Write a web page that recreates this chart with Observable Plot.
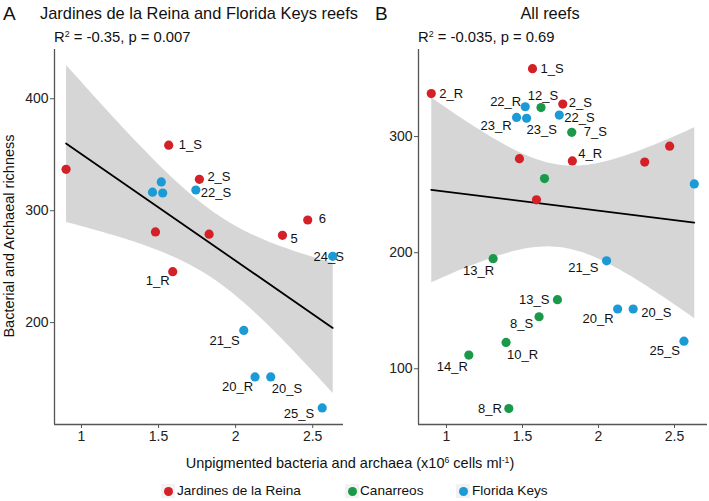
<!DOCTYPE html>
<html><head><meta charset="utf-8">
<script src="https://cdn.jsdelivr.net/npm/d3@7"></script>
<script src="https://cdn.jsdelivr.net/npm/@observablehq/plot@0.6"></script>
<style>
body{margin:0;background:#fff;font-family:"Liberation Sans",Arial,sans-serif;}
#wrap{position:relative;width:709px;height:501px;overflow:hidden;background:#fff}
.abs{position:absolute;white-space:nowrap;color:#111;line-height:1}
.abs sup{font-size:0.6em;vertical-align:0.55em;line-height:0}
.key{position:absolute;width:14px;height:14px;background:#f2f2f2}
.dot{position:absolute;width:9px;height:9px;border-radius:50%}
</style></head><body><div id="wrap"></div>
<script>
// ---- data ----
const regions = ["Jardines de la Reina", "Canarreos", "Florida Keys"];
const regionColors = ["#d42027", "#1a9a48", "#1b9ad6"];
const sampleRegion = [
  "Jardines de la Reina","Jardines de la Reina","Jardines de la Reina","Jardines de la Reina",
  "Jardines de la Reina","Jardines de la Reina","Jardines de la Reina","Jardines de la Reina",
  "Florida Keys","Florida Keys","Florida Keys","Florida Keys","Florida Keys",
  "Florida Keys","Florida Keys","Florida Keys","Florida Keys",
  "Canarreos","Canarreos","Canarreos","Canarreos","Canarreos",
  "Canarreos","Canarreos","Canarreos","Canarreos"
];
const unpigmented = [
  1.566, 0.900, 1.765, 2.468, 1.480, 1.828, 2.304, 1.592,
  1.742, 1.518, 1.461, 1.527, 2.630, 2.053, 2.126, 2.228, 2.562,
  1.622, 1.824, 1.645, 1.307, 1.730, 1.609, 1.392, 1.147, 1.410
];
const richness = [
  358.5, 337.0, 328.0, 291.7, 281.0, 279.0, 278.0, 245.5,
  318.5, 325.7, 316.5, 315.8, 259.2, 193.0, 151.5, 151.5, 123.8,
  325.0, 303.7, 263.8, 194.8, 159.5, 144.8, 122.7, 111.8, 65.8
];
const labelsA = [
  "1_S", "", "2_S", "6", "", "", "5", "1_R",
  "22_S", "", "", "", "24_S", "21_S", "20_R", "20_S", "25_S",
  "", "", "", "", "", "", "", "", ""
];
const labelsB = [
  "1_S", "2_R", "2_S", "", "", "4_R", "", "",
  "22_S", "22_R", "23_R", "23_S", "", "21_S", "20_R", "20_S", "25_S",
  "12_S", "7_S", "", "13_R", "13_S", "8_S", "10_R", "14_R", "8_R"
];
const xTicks = [1, 1.5, 2, 2.5];
const yTicksA = [200, 300, 400];
const yTicksB = [100, 200, 300];
const titleA = "Jardines de la Reina and Florida Keys reefs";
const titleB = "All reefs";
const statA = "R<sup>2</sup> = -0.35, p = 0.007";
const statB = "R<sup>2</sup> = -0.035, p = 0.69";
const yLabel = "Bacterial and Archaeal richness";
const xLabel = "Unpigmented bacteria and archaea (x10<sup>6</sup> cells ml<sup>-1</sup>)";

// ---- label placement (layout, not data) ----
const placeA = {
  "1_S":[10,0,"start"], "2_S":[8,-3,"start"], "22_S":[5,3,"start"], "6":[11,-1,"start"],
  "5":[8,4,"start"], "24_S":[-4,0,"middle"], "1_R":[-3,9,"end"], "21_S":[-4,10,"end"],
  "20_R":[-2,10,"end"], "20_S":[1,12,"start"], "25_S":[-8,6,"end"]
};
const placeB = {
  "1_S":[8,0,"start"], "2_R":[8,0,"start"], "22_R":[-4,-5,"end"], "12_S":[2,-12,"middle"],
  "2_S":[6,-1,"start"], "23_R":[-5,8,"end"], "23_S":[0,12,"start"], "22_S":[5,3,"start"],
  "7_S":[12,0,"start"], "4_R":[6,-7,"start"], "13_R":[1,12,"end"], "21_S":[-8,7,"end"],
  "13_S":[-8,0,"end"], "8_S":[-6,7,"end"], "20_R":[-4,10,"end"], "20_S":[8,4,"start"],
  "10_R":[1,12,"start"], "14_R":[-1,12,"end"], "25_S":[-4,10,"end"], "8_R":[-7,0,"end"]
};

const data = unpigmented.map((x, i) => ({
  x, y: richness[i], region: sampleRegion[i], labelA: labelsA[i], labelB: labelsB[i]
}));
const dataA = data.filter(d => d.region !== "Canarreos");

const wrap = document.getElementById("wrap");
const font = '"Liberation Sans", Arial, sans-serif';

function panel(rows, labelKey, place, opts) {
  const xd = opts.xDomain, yd = opts.yDomain;
  const labelMarks = rows.filter(d => d[labelKey]).map(d => {
    const p = place[d[labelKey]] || [6, 0, "start"];
    return Plot.text([d], {x: "x", y: "y", text: labelKey, dx: p[0], dy: p[1],
      textAnchor: p[2], fontSize: 13, fill: "#111"});
  });
  return Plot.plot({
    width: opts.width, height: 410,
    marginLeft: opts.ml, marginRight: opts.mr, marginTop: 4, marginBottom: 31,
    style: {fontFamily: font, fontSize: "14px", background: "transparent", overflow: "visible"},
    x: {domain: xd, ticks: xTicks},
    y: {domain: yd, ticks: opts.yTicks},
    color: {domain: regions, range: regionColors},
    marks: [
      Plot.linearRegressionY(rows, {x: "x", y: "y", ci: 0.95, stroke: "#000",
        strokeWidth: 1.8, fill: "#d6d6d6", fillOpacity: 1}),
      ...labelMarks,
      Plot.dot(rows, {x: "x", y: "y", fill: "region", r: 4.6}),
      Plot.ruleX([xd[0]], {stroke: "#555", strokeWidth: 1.3}),
      Plot.ruleY([yd[0]], {stroke: "#555", strokeWidth: 1.3}),
      Plot.axisX({ticks: xTicks, tickFormat: d => String(d), tickSize: 4, tickPadding: 3,
        label: null, stroke: "#555", fill: "#222", fontSize: 14}),
      Plot.axisY({ticks: opts.yTicks, tickFormat: d => String(d), tickSize: 4, tickPadding: 2,
        label: null, stroke: "#555", fill: "#222", fontSize: 14})
    ]
  });
}

const svgA = panel(dataA, "labelA", placeA,
  {width: 354, ml: 54, mr: 11, xDomain: [0.825, 2.70], yDomain: [109, 444], yTicks: yTicksA});
const svgB = panel(data, "labelB", placeB,
  {width: 355, ml: 64, mr: 2, xDomain: [0.816, 2.717], yDomain: [52, 375], yTicks: yTicksB});

function place(el, left, top) {
  el.style.position = "absolute"; el.style.left = left + "px"; el.style.top = top + "px";
  wrap.appendChild(el);
}
place(svgA, 0, 45);
place(svgB, 354, 45);

function txt(html, left, top, size, extra) {
  const d = document.createElement("div");
  d.className = "abs"; d.innerHTML = html;
  d.style.left = left + "px"; d.style.top = top + "px"; d.style.fontSize = size + "px";
  if (extra) Object.assign(d.style, extra);
  wrap.appendChild(d);
  return d;
}
txt("A", 3, 4, 19);
txt(titleA, 40, 5, 16.4);
txt(statA, 54, 30, 14.8);
txt("B", 375, 4, 19);
txt(titleB, 550, 5, 16.4, {transform: "translateX(-50%)"});
txt(statB, 418, 30, 14.8);
txt(yLabel, 9, 236, 14.5, {transform: "translate(-50%,-50%) rotate(-90deg)"});
txt(xLabel, 350, 456, 14.5, {transform: "translateX(-50%)"});

// legend
const legendPos = [[168, 177], [352, 360], [463, 472]];
regions.forEach((r, i) => {
  const k = document.createElement("div"); k.className = "key";
  k.style.left = (legendPos[i][0] - 7) + "px"; k.style.top = "484px"; wrap.appendChild(k);
  const dt = document.createElement("div"); dt.className = "dot";
  dt.style.background = regionColors[i];
  dt.style.left = (legendPos[i][0] - 4.5) + "px"; dt.style.top = "486.5px"; wrap.appendChild(dt);
  txt(r, legendPos[i][1], 484, 13.6);
});
</script></body></html>
